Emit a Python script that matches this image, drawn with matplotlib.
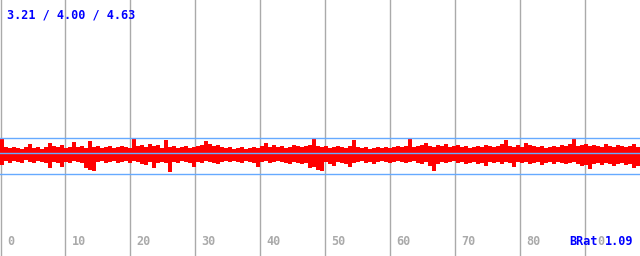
import matplotlib
matplotlib.use('Agg')
import matplotlib.pyplot as plt
import matplotlib.transforms as mtransforms
import numpy as np

# ── Data (amplitudes in screen pixels about centre) ──
x_span = 98.6                      # visible time span (grid every 10)
grid_ticks = [0, 10, 20, 30, 40, 50, 60, 70, 80, 90]
tick_labels = ["0", "10", "20", "30", "40", "50", "60", "70", "80"]

upper = [
    14, 6, 5, 6, 5, 4, 6, 9, 5, 6, 4, 6, 10, 7, 6, 8, 5, 6, 11, 6,
    7, 5, 12, 6, 7, 5, 6, 7, 5, 6, 7, 6, 5, 14, 7, 8, 6, 9, 7, 8,
    5, 13, 6, 7, 5, 6, 7, 5, 6, 7, 8, 12, 9, 7, 8, 6, 5, 6, 4, 5,
    6, 4, 5, 6, 5, 7, 10, 6, 8, 6, 7, 5, 6, 8, 7, 6, 7, 8, 14, 7,
    6, 7, 5, 6, 7, 6, 5, 7, 13, 6, 5, 6, 4, 5, 6, 5, 6, 5, 6, 7,
    6, 7, 14, 6, 7, 8, 10, 7, 6, 8, 7, 9, 6, 7, 8, 6, 7, 5, 6, 7,
    6, 8, 7, 6, 7, 9, 13, 7, 6, 8, 6, 10, 8, 7, 6, 7, 5, 6, 7, 6,
    8, 7, 9, 14, 7, 8, 9, 7, 8, 7, 6, 9, 7, 6, 8, 7, 6, 7, 9, 6,
]
lower = [
    12, 8, 10, 8, 9, 10, 7, 9, 10, 8, 9, 10, 15, 9, 10, 14, 9, 10, 8, 9,
    10, 15, 17, 18, 9, 8, 10, 9, 8, 10, 9, 8, 10, 8, 9, 11, 12, 9, 15, 10,
    9, 10, 19, 9, 10, 8, 9, 10, 14, 9, 10, 8, 9, 10, 11, 9, 8, 9, 8, 9,
    10, 8, 9, 10, 14, 9, 8, 10, 9, 8, 9, 10, 11, 9, 10, 11, 10, 15, 14, 17,
    18, 9, 11, 13, 9, 10, 11, 14, 10, 9, 8, 10, 9, 11, 9, 8, 9, 10, 9, 8,
    9, 10, 9, 8, 10, 11, 9, 13, 18, 11, 9, 10, 9, 8, 10, 9, 11, 10, 9, 11,
    10, 13, 9, 10, 9, 11, 9, 10, 14, 9, 10, 9, 11, 10, 9, 12, 10, 9, 11, 9,
    10, 11, 10, 9, 11, 13, 12, 16, 11, 10, 12, 10, 11, 13, 11, 10, 12, 11, 15, 13,
]
ref_levels = [15, 0, -21]          # light-blue reference lines
header = "3.21 / 4.00 / 4.63"
badge = [("BRat", '#0000ff'), ("0", '#aaaaaa'), ("1.09", '#0000ff')]

# ── Plot ─────────────────────────────────────────────────────────────────────
up = np.array(upper, float)
lo = np.array(lower, float)
t = np.arange(len(up) + 1) * x_span / len(up)

fig = plt.figure(figsize=(6.4, 2.56), dpi=100)
ax = fig.add_axes([0, 0, 1, 1])
ax.set_xlim(0, x_span)
ax.set_ylim(-103.5, 152.5)
ax.axis('off')

for g in grid_ticks:
    ax.axvline(g + 0.08, color='#aaaaaa', lw=1.0, zorder=1)

ax.fill_between(t, 0, np.append(up, up[-1]), step='post', color='#ff0000',
                lw=0, zorder=2, antialiased=False)
ax.fill_between(t, 0, -np.append(lo, lo[-1]), step='post', color='#ff0000',
                lw=0, zorder=2, antialiased=False)

for lv in ref_levels:
    ax.axhline(lv, color='#66aaff', lw=1.0, zorder=3)

fsize = 8.5
font = dict(family='DejaVu Sans Mono', weight='bold', size=fsize)
adv = fsize / 72 * 100 * 0.602     # monospace advance in pixels

lab_tr = mtransforms.blended_transform_factory(ax.transData, fig.transFigure)
for g, lab in zip(grid_ticks, tick_labels):
    ax.annotate(lab, (g, 1 - 245 / 256), xycoords=lab_tr,
                xytext=(7, 0), textcoords='offset pixels',
                va='baseline', ha='left', color='#aaaaaa', **font)

fig.text(7 / 640, 1 - 19 / 256, header, va='baseline', ha='left',
         color='#0000ff', **font)

# badge: each piece placed by character count in the monospace font
n = 0
for piece, col in badge:
    ax.annotate(piece, (569 / 640, 1 - 245 / 256), xycoords='figure fraction',
                xytext=(n * adv, 0), textcoords='offset pixels',
                va='baseline', ha='left', color=col, **font)
    n += len(piece)

fig.savefig("out.png", dpi=100, facecolor='white')
